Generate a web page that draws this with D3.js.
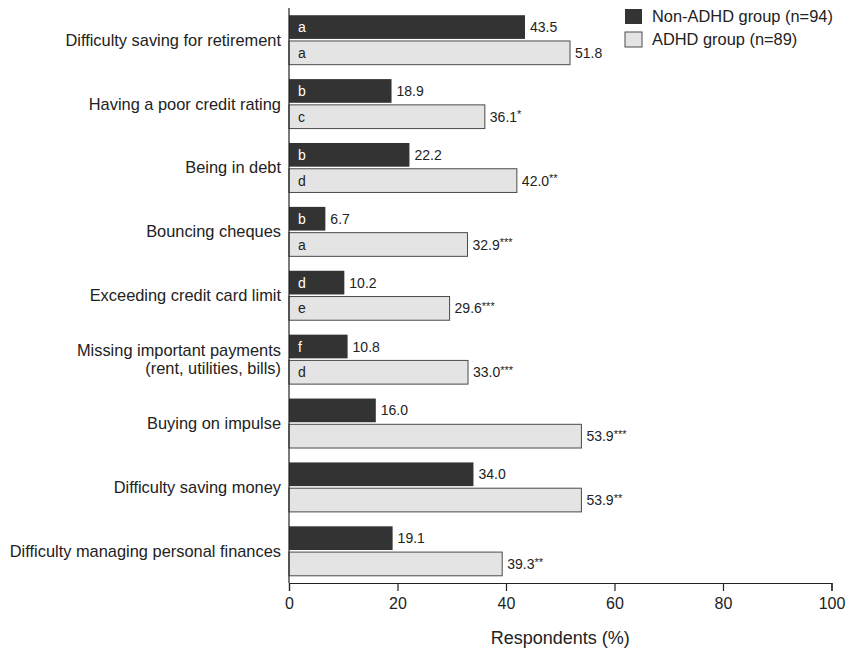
<!DOCTYPE html>
<html>
<head>
<meta charset="utf-8">
<script src="https://cdn.jsdelivr.net/npm/d3@7"></script>
<style>
  html, body { margin: 0; padding: 0; background: #fff; }
  svg { display: block; font-family: "Liberation Sans", Arial, Helvetica, sans-serif; }
</style>
</head>
<body>
<svg id="chart" width="848" height="648"></svg>
<script>
// Financial difficulties reported by respondents, by group
const categories = [
  ["Difficulty saving for retirement"],
  ["Having a poor credit rating"],
  ["Being in debt"],
  ["Bouncing cheques"],
  ["Exceeding credit card limit"],
  ["Missing important payments", "(rent, utilities, bills)"],
  ["Buying on impulse"],
  ["Difficulty saving money"],
  ["Difficulty managing personal finances"]
];
const seriesNames = ["Non-ADHD group (n=94)", "ADHD group (n=89)"];
const nonAdhd = [43.5, 18.9, 22.2, 6.7, 10.2, 10.8, 16.0, 34.0, 19.1];
const adhd = [51.8, 36.1, 42.0, 32.9, 29.6, 33.0, 53.9, 53.9, 39.3];
const adhdSignificance = ["", "*", "**", "***", "***", "***", "***", "**", "**"];
const nonAdhdLetters = ["a", "b", "b", "b", "d", "f", "", "", ""];
const adhdLetters = ["a", "c", "d", "a", "e", "d", "", "", ""];
const xTicks = [0, 20, 40, 60, 80, 100];
const xTitle = "Respondents (%)";

const fills = ["#333333", "#e4e4e4"];
const textColor = "#222222";

const svg = d3.select("#chart");

const x = d3.scaleLinear().domain([0, 100]).range([289, 831.5]);
const keys = categories.map((c, i) => i);
const y = d3.scaleBand().domain(keys).range([8, 583]).padding(0);
const inner = d3.scaleBand().domain([0, 1]).range([0, y.bandwidth()])
  .paddingInner(0.08).paddingOuter(0.28);

const series = [
  { values: nonAdhd, letters: nonAdhdLetters, sig: nonAdhd.map(() => "") },
  { values: adhd, letters: adhdLetters, sig: adhdSignificance }
];

// Bars
series.forEach((s, si) => {
  const g = svg.append("g");
  const rows = g.selectAll("g.row").data(keys).join("g")
    .attr("class", "row")
    .attr("transform", i => `translate(0,${y(i) + inner(si)})`);

  rows.append("rect")
    .attr("x", x(0))
    .attr("y", 0)
    .attr("width", i => x(s.values[i]) - x(0))
    .attr("height", inner.bandwidth())
    .attr("fill", fills[si])
    .attr("stroke", si === 0 ? "none" : "#4a4a4a")
    .attr("stroke-width", 1);

  rows.filter(i => s.letters[i] !== "").append("text")
    .attr("x", x(0) + 9)
    .attr("y", inner.bandwidth() / 2)
    .attr("dy", "0.36em")
    .attr("font-size", 14)
    .attr("fill", si === 0 ? "#ffffff" : textColor)
    .text(i => s.letters[i]);

  const labels = rows.append("text")
    .attr("x", i => x(s.values[i]) + 5)
    .attr("y", inner.bandwidth() / 2)
    .attr("dy", "0.36em")
    .attr("font-size", 14)
    .attr("fill", textColor);
  labels.append("tspan").text(i => d3.format(".1f")(s.values[i]));
  labels.filter(i => s.sig[i] !== "").append("tspan")
    .attr("font-size", 11)
    .attr("dy", "-0.3em")
    .text(i => s.sig[i]);
});

// Category labels
const catG = svg.append("g");
keys.forEach(i => {
  const lines = categories[i];
  const cy = y(i) + y.bandwidth() / 2;
  const lh = 18;
  const t = catG.append("text")
    .attr("text-anchor", "end")
    .attr("font-size", 16.4)
    .attr("fill", textColor);
  lines.forEach((line, li) => {
    t.append("tspan")
      .attr("x", 281)
      .attr("y", cy + (li - (lines.length - 1) / 2) * lh)
      .attr("dy", "0.35em")
      .text(line);
  });
});

// Left axis line
svg.append("line")
  .attr("x1", x(0)).attr("x2", x(0))
  .attr("y1", 8).attr("y2", 583)
  .attr("stroke", textColor).attr("stroke-width", 1.2);

// Bottom axis
const xAxis = d3.axisBottom(x).tickValues(xTicks).tickSizeOuter(0).tickSize(8).tickPadding(7);
const axG = svg.append("g")
  .attr("transform", "translate(0,583)")
  .call(xAxis);
axG.select(".domain").attr("stroke", textColor).attr("stroke-width", 1.2);
axG.selectAll(".tick line").attr("stroke", textColor).attr("stroke-width", 1.2);
axG.selectAll(".tick text")
  .attr("font-size", 16)
  .attr("font-family", "Liberation Sans, Arial, Helvetica, sans-serif")
  .attr("fill", textColor);

svg.append("text")
  .attr("x", (x(0) + x(100)) / 2)
  .attr("y", 637.5)
  .attr("dy", "0.35em")
  .attr("text-anchor", "middle")
  .attr("font-size", 18)
  .attr("fill", textColor)
  .text(xTitle);

// Legend
const legend = svg.append("g").attr("transform", "translate(625,9)");
seriesNames.forEach((name, i) => {
  const row = legend.append("g").attr("transform", `translate(0,${i * 23})`);
  row.append("rect")
    .attr("x", 0).attr("y", 0)
    .attr("width", 17).attr("height", 15)
    .attr("fill", fills[i])
    .attr("stroke", i === 0 ? "none" : "#4a4a4a");
  row.append("text")
    .attr("x", 27).attr("y", 7.5)
    .attr("dy", "0.35em")
    .attr("font-size", 16.4)
    .attr("fill", textColor)
    .text(name);
});
</script>
</body>
</html>
